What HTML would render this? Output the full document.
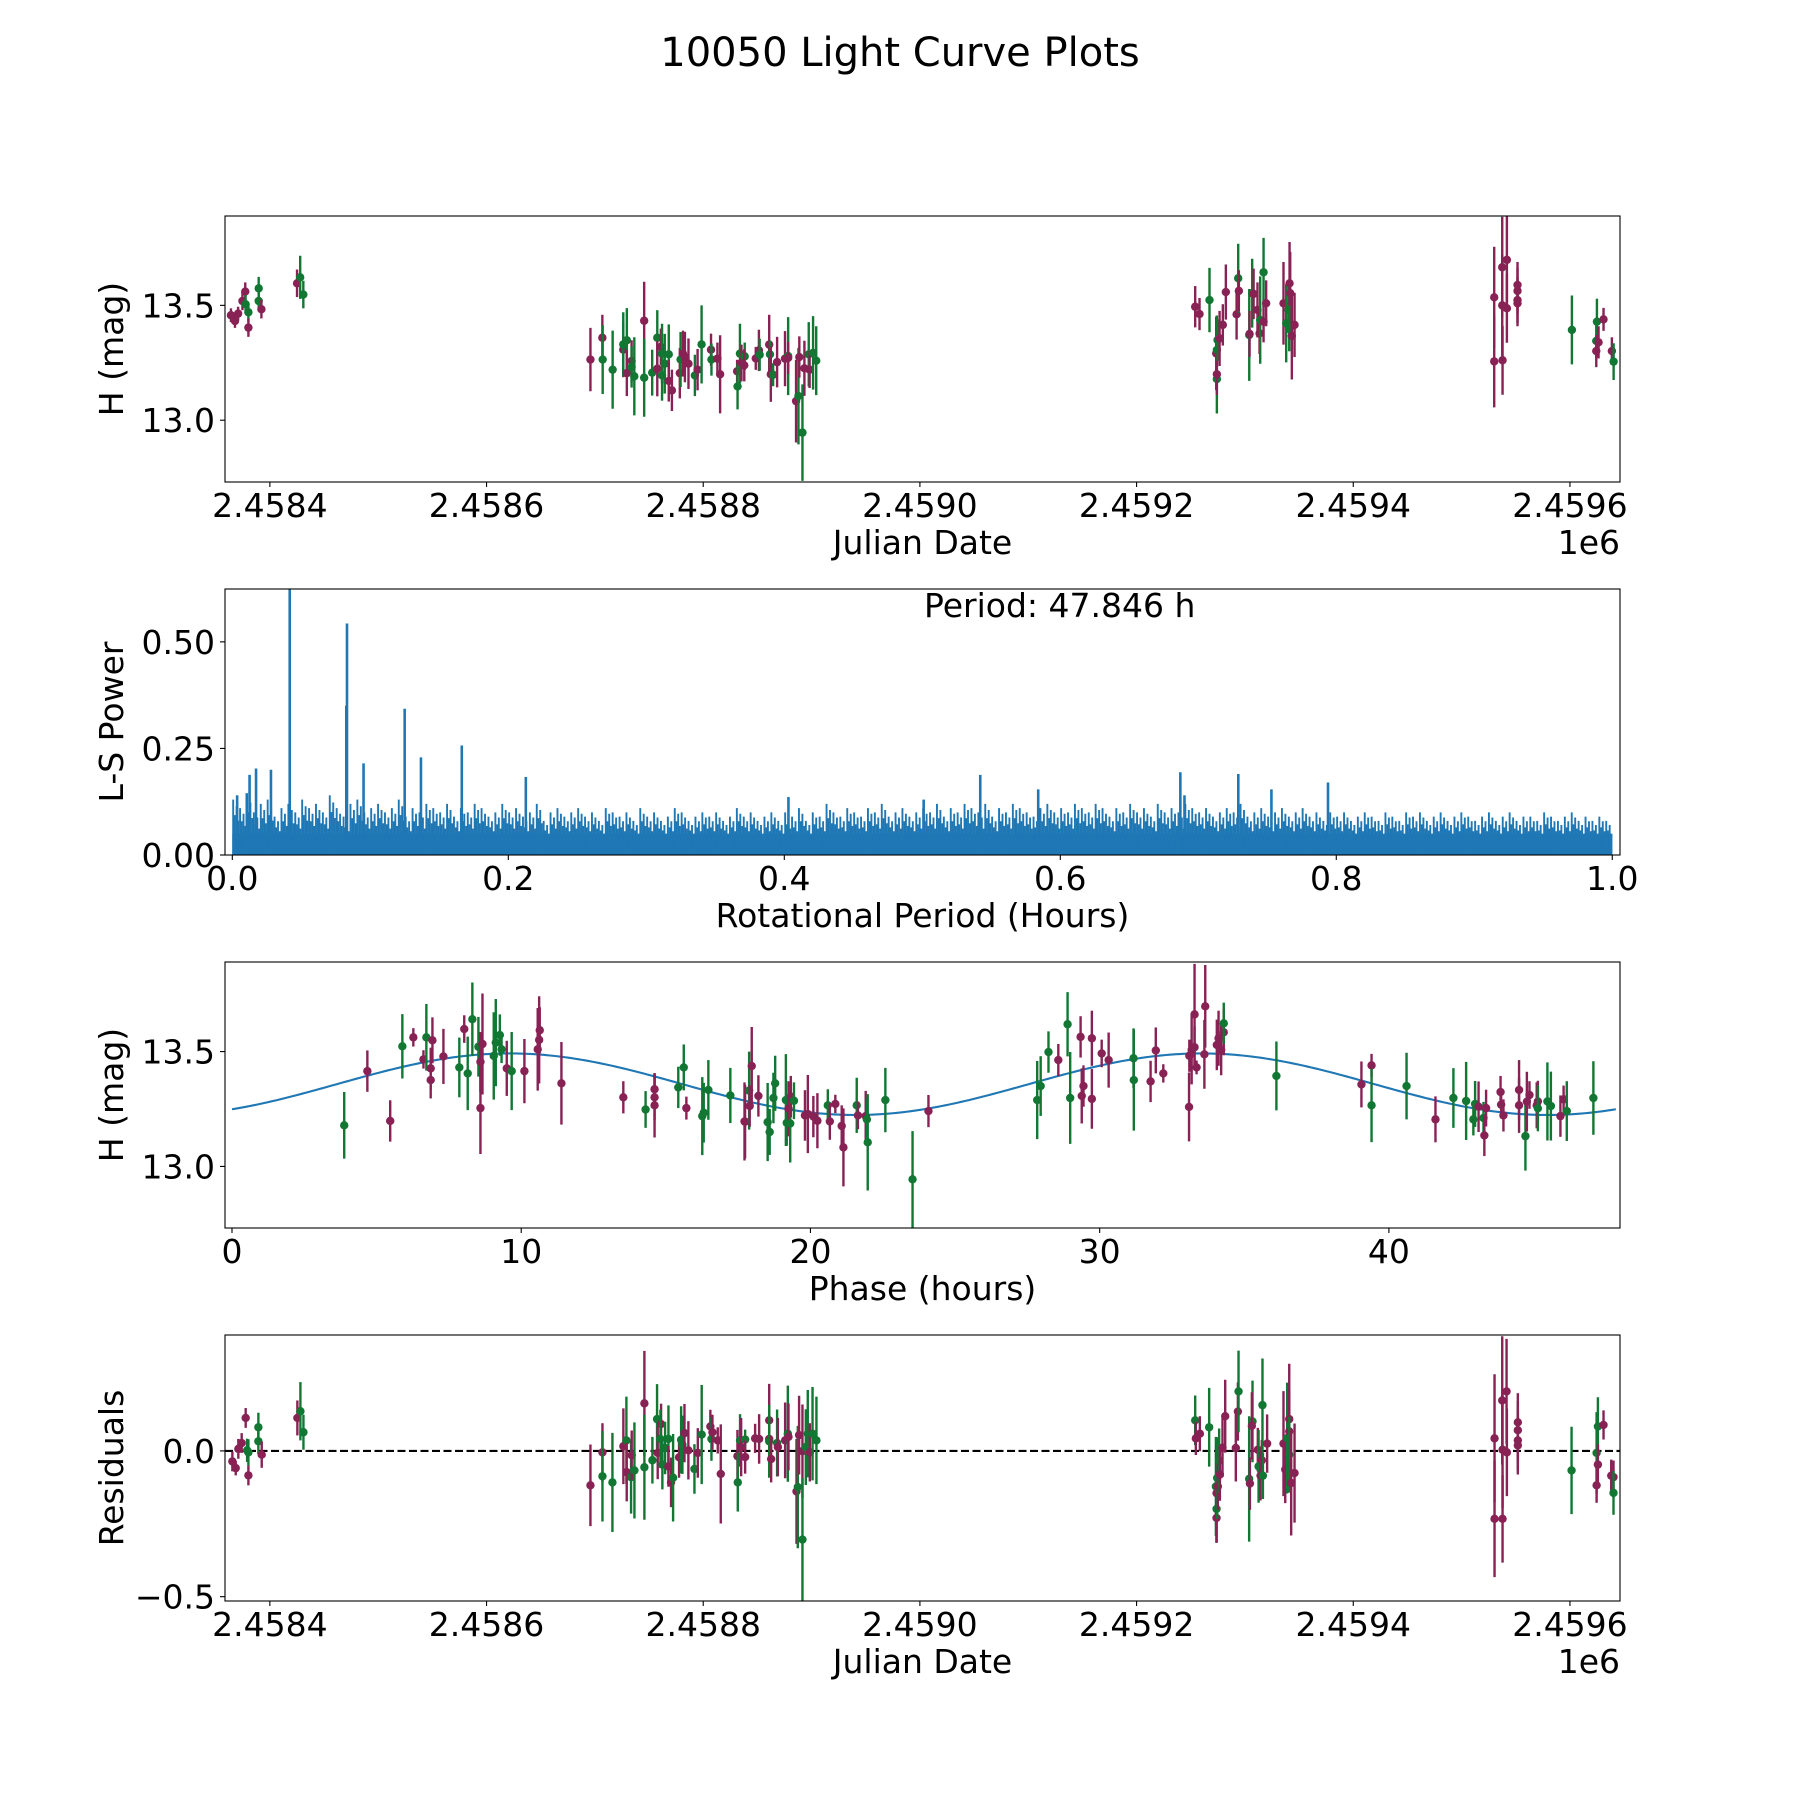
<!DOCTYPE html>
<html><head><meta charset="utf-8"><title>10050 Light Curve Plots</title>
<style>html,body{margin:0;padding:0;background:#fff}svg{display:block}text{font-family:"DejaVu Sans","Liberation Sans",sans-serif;fill:#000}</style>
</head><body>
<svg id="fig" xmlns="http://www.w3.org/2000/svg" width="1800" height="1800" viewBox="0 0 1800 1800">
<rect x="0" y="0" width="1800" height="1800" fill="#fff"/>
<text x="900" y="66" font-size="40" text-anchor="middle">10050 Light Curve Plots</text>
</svg>
<script>
// ---------- Panel 1: light curve (days since JD 2458400) ----------
const JD_REF = 2458400;
const lcDay = [-35.9,-32.2,-29.3,-25.3,-22.7,-22.4,-19.8,-19.8,-10.3,-10.3,-7.8,25.1,28.0,30.9,
295.9,306.9,307.2,316.4,326.2,326.2,329.5,329.5,333.9,333.9,336.4,345.5,345.5,352.9,357.6,357.6,360.9,362.0,362.0,364.5,368.2,368.2,371.1,378.4,379.1,381.3,383.1,386.4,392.3,394.8,398.5,407.2,407.6,413.1,415.6,431.3,431.7,433.9,435.3,438.3,437.9,448.5,451.4,452.1,460.9,461.6,462.4,464.5,468.2,475.5,478.4,478.4,485.7,487.9,488.7,491.6,493.4,497.4,498.2,501.4,504.3,
854.1,858.1,867.3,873.5,874.1,874.1,874.1,874.7,876.6,879.6,882.4,892.3,893.8,894.4,904.0,904.3,906.7,908.0,911.6,913.5,914.1,917.2,917.2,919.6,935.6,938.1,940.3,941.2,941.8,940.9,943.3,945.8,
1130.1,1130.1,1137.5,1137.5,1137.8,1141.8,1141.8,1151.6,1151.6,1151.6,1151.6,1201.8,1224.9,1224.3,1224.3,1226.4,1231.0,1238.7,1240.3];
const lcMag = [13.457,13.432,13.464,13.519,13.560,13.505,13.470,13.403,13.574,13.519,13.483,13.596,13.622,13.547,
13.264,13.359,13.264,13.220,13.307,13.330,13.348,13.205,13.258,13.232,13.191,13.433,13.185,13.207,13.359,13.224,13.319,13.290,13.195,13.246,13.287,13.171,13.130,13.205,13.264,13.290,13.275,13.246,13.195,13.220,13.330,13.307,13.264,13.268,13.200,13.213,13.147,13.290,13.249,13.278,13.239,13.269,13.304,13.285,13.329,13.287,13.200,13.198,13.253,13.268,13.279,13.271,13.083,13.105,13.275,12.946,13.226,13.287,13.220,13.293,13.259,
13.494,13.462,13.523,13.291,13.306,13.179,13.200,13.349,13.356,13.415,13.558,13.461,13.618,13.563,13.371,13.376,13.553,13.550,13.480,13.378,13.436,13.429,13.644,13.509,13.509,13.422,13.480,13.596,13.553,13.400,13.367,13.415,
13.535,13.256,13.666,13.500,13.261,13.698,13.487,13.589,13.563,13.523,13.509,13.393,13.429,13.345,13.301,13.339,13.439,13.301,13.255];
const lcErr = [.03,.03,.03,.04,.04,.04,.04,.04,.05,.04,.04,.06,.094,.06,
.138,.10,.15,.17,.12,.14,.14,.10,.09,.09,.17,.17,.17,.10,.12,.12,.08,.13,.11,.13,.13,.09,.09,.11,.12,.10,.11,.11,.09,.09,.17,.07,.07,.07,.17,.05,.10,.13,.08,.06,.07,.05,.09,.07,.13,.06,.12,.05,.11,.12,.17,.07,.18,.21,.09,.21,.12,.14,.08,.16,.15,
.09,.07,.14,.16,.15,.15,.09,.09,.12,.09,.12,.11,.15,.09,.20,.10,.15,.11,.12,.09,.19,.09,.15,.10,.18,.17,.10,.18,.18,.10,.19,.14,
.22,.20,.22,.22,.15,.19,.15,.10,.10,.10,.10,.15,.10,.07,.07,.07,.05,.06,.08];
const lcBand = "mmmmmggmggmmgg" + "mmggmggmmggmgggmmggggmmmgmmmgmgmgmmmggmgmmmgmgmgmmgmmgmgmgmgg" + "mmgmggmgmmmmgmgmgmmmgmgmmggmmgmm" + "mmmmmmmmmmmgggmmmmg";

// ---------- Panel 2: Lomb-Scargle periodogram ----------
const lsBinWidth = 0.005;
const lsBinPower = [0.13,0.11,0.14,0.10,0.12,0.13,0.09,0.11,0.12,0.10,0.13,0.11,0.12,0.10,0.14,0.11,0.09,0.12,0.13,0.10,
0.11,0.12,0.10,0.11,0.13,0.09,0.11,0.10,0.12,0.11,0.10,0.12,0.09,0.11,0.10,0.12,0.11,0.09,0.10,0.12,
0.10,0.11,0.09,0.10,0.12,0.08,0.10,0.11,0.09,0.10,0.11,0.09,0.10,0.08,0.11,0.10,0.09,0.10,0.08,0.11,
0.09,0.10,0.08,0.09,0.11,0.10,0.08,0.09,0.10,0.09,0.10,0.08,0.09,0.11,0.09,0.10,0.08,0.09,0.10,0.08,
0.10,0.09,0.11,0.08,0.10,0.09,0.12,0.10,0.09,0.11,0.10,0.09,0.11,0.10,0.12,0.09,0.10,0.11,0.09,0.10,
0.11,0.10,0.12,0.09,0.11,0.10,0.12,0.11,0.10,0.12,0.09,0.11,0.10,0.12,0.11,0.10,0.09,0.11,0.12,0.10,
0.11,0.10,0.12,0.11,0.10,0.12,0.11,0.09,0.11,0.10,0.12,0.10,0.11,0.09,0.12,0.10,0.11,0.10,0.12,0.11,
0.10,0.11,0.09,0.10,0.11,0.10,0.12,0.09,0.10,0.11,0.09,0.10,0.11,0.09,0.10,0.11,0.09,0.10,0.08,0.10,
0.09,0.10,0.08,0.09,0.10,0.09,0.08,0.10,0.09,0.08,0.10,0.09,0.10,0.08,0.09,0.10,0.08,0.09,0.10,0.09,
0.08,0.09,0.10,0.08,0.09,0.10,0.08,0.09,0.09,0.08,0.10,0.09,0.08,0.09,0.10,0.08,0.09,0.08,0.09,0.08];
const lsFloor = 0.05;
const lsSubFraction = [1.0,0.72,0.88,0.62];
const lsSpikePeriod = [0.0035,0.0105,0.0125,0.0172,0.028,0.0416,0.0826,0.0831,0.0951,0.1249,0.1367,0.1663,0.2127,0.403,0.501,0.542,0.584,0.687,0.69,0.729,0.753,0.794];
const lsSpikePower = [0.14,0.145,0.188,0.203,0.20,0.70,0.35,0.543,0.215,0.343,0.229,0.257,0.183,0.136,0.13,0.188,0.154,0.194,0.14,0.19,0.154,0.17];
const periodHours = 47.846;

// ---------- Panel 3: phased light curve ----------
const phHour = [3.88,4.68,5.47,5.89,6.27,6.62,6.72,6.87,6.87,6.93,7.31,7.86,8.03,8.15,8.31,8.52,8.59,8.59,8.66,9.05,9.12,9.26,9.32,9.50,9.67,10.11,10.57,10.62,10.64,11.39,13.53,14.30,14.61,14.61,14.61,15.43,15.62,15.71,16.26,16.31,16.47,17.23,17.72,
17.74,17.88,17.90,17.97,18.20,18.52,18.59,18.72,18.78,19.15,19.18,19.24,19.30,19.32,19.43,19.81,19.91,20.10,20.24,20.60,20.67,20.86,21.08,21.14,21.60,21.64,21.91,21.95,21.98,22.59,23.53,24.08,27.84,27.96,28.23,28.57,28.89,28.98,29.34,29.38,29.44,29.73,29.73,30.07,30.31,31.17,31.18,31.76,31.94,32.20,33.09,33.10,33.18,33.28,33.28,33.35,33.62,33.65,34.05,34.11,34.20,34.29,34.29,
36.11,39.05,39.40,39.40,40.61,41.61,42.23,42.67,42.92,42.98,43.10,43.27,43.30,43.36,43.86,43.88,43.96,44.50,44.50,44.72,44.77,44.86,45.11,45.15,45.15,45.48,45.60,45.93,46.04,46.15,47.07];
const phMag = [13.179,13.415,13.198,13.523,13.562,13.466,13.562,13.427,13.376,13.549,13.479,13.431,13.598,13.405,13.641,13.521,13.455,13.254,13.533,13.481,13.539,13.572,13.510,13.427,13.415,13.415,13.510,13.551,13.593,13.362,13.301,13.248,13.336,13.301,13.266,13.344,13.431,13.254,13.219,13.234,13.333,13.309,13.196,
13.195,13.330,13.263,13.437,13.307,13.193,13.150,13.298,13.362,13.289,13.190,13.251,13.187,13.304,13.286,13.222,13.228,13.217,13.199,13.266,13.196,13.272,13.176,13.083,13.266,13.222,13.219,13.205,13.105,13.289,12.944,13.241,13.289,13.350,13.498,13.463,13.619,13.298,13.564,13.307,13.350,13.558,13.294,13.492,13.463,13.471,13.376,13.370,13.505,13.405,13.259,13.482,13.507,13.662,13.519,13.431,13.488,13.697,13.529,13.558,13.507,13.584,13.623,
13.394,13.357,13.440,13.266,13.350,13.205,13.298,13.285,13.205,13.272,13.260,13.211,13.135,13.254,13.324,13.269,13.222,13.333,13.266,13.132,13.282,13.311,13.266,13.283,13.253,13.283,13.263,13.219,13.292,13.241,13.298];
const phErr = [.145,.09,.09,.14,.04,.04,.145,.09,.08,.10,.12,.13,.06,.16,.16,.13,.13,.20,.22,.19,.19,.09,.06,.12,.17,.14,.18,.19,.10,.18,.07,.08,.07,.10,.14,.09,.10,.05,.17,.13,.13,.12,.17,
.16,.17,.09,.17,.09,.17,.10,.11,.12,.20,.10,.12,.17,.09,.08,.11,.17,.09,.12,.07,.08,.04,.09,.17,.12,.06,.11,.09,.21,.14,.21,.07,.17,.13,.09,.07,.14,.20,.09,.12,.09,.12,.13,.06,.12,.13,.22,.09,.10,.04,.15,.07,.15,.22,.09,.03,.15,.18,.11,.12,.11,.10,.09,
.15,.10,.05,.16,.145,.10,.13,.17,.07,.10,.11,.07,.09,.08,.07,.06,.07,.13,.12,.15,.13,.06,.10,.09,.10,.17,.15,.09,.06,.13,.16];
const phBand = "gmmgmmgmmmmgmgggmmmggggmgmmmmmmgmmmggmggggmm".slice(0,43) + "mgmmmggggggmgmgmmmmgmmmmgmmggggmgggmggmmmmmmmggmmmmmmmmmmmmmmmg" + "gmmggmggggmgmmmmmmmgmmmmgggmmgg";
const modelAmp = 0.134, modelMean = 13.358, modelPeakHour = 9.6;

// ---------- Panel 4: residuals ----------
const resDay = [-34.6,-31.5,-29.1,-26.0,-22.3,-21.0,-19.8,-19.8,-10.6,-10.6,-7.5,25.4,28.2,31.0,
295.9,307.0,307.0,316.2,326.3,329.1,329.4,333.4,334.0,336.5,345.7,345.7,353.1,357.4,358.0,361.1,360.5,362.3,364.8,367.9,367.9,370.3,372.2,377.7,379.6,380.8,382.7,386.3,391.9,395.0,398.6,406.6,407.6,408.5,413.4,416.2,431.6,431.9,434.0,435.0,
438.7,438.7,447.9,451.6,460.9,460.9,460.9,462.7,468.2,468.9,475.6,478.1,478.7,486.1,487.3,488.5,491.6,491.6,494.7,496.5,498.4,500.9,504.5,
854.1,854.7,858.4,867.0,873.2,873.8,873.8,873.8,874.4,875.0,876.2,876.9,879.3,881.8,891.6,893.5,894.1,903.9,904.6,907.0,906.4,911.9,912.6,914.4,915.6,916.2,916.6,
920.5,935.6,937.2,939.0,940.9,940.9,940.9,942.7,945.8,
1130.4,1130.4,1137.5,1137.8,1137.8,1141.5,1141.8,1151.9,1151.9,1151.9,1151.9,1201.5,1224.6,1225.8,1225.8,1224.6,1231.0,1238.1,1240.2,1240.2];
const resVal = [-0.036,-0.059,0.007,0.027,0.113,0.002,-0.005,-0.084,0.081,0.033,-0.013,0.113,0.136,0.064,
-0.118,-0.005,-0.087,-0.108,0.016,0.036,-0.073,-0.09,-0.015,-0.067,0.163,-0.056,-0.032,0.109,-0.007,0.092,0.041,-0.047,0.010,0.041,-0.053,-0.108,-0.092,-0.022,0.038,0.021,0.061,0.002,-0.062,-0.007,0.056,0.084,0.041,0.064,0.036,-0.079,-0.018,-0.108,0.036,0.013,
0.039,-0.021,0.043,0.041,0.105,0.041,0.033,-0.028,0.027,0.013,0.036,0.059,0.048,-0.139,-0.124,0.054,-0.001,-0.304,0.013,0.059,-0.005,0.059,0.036,
0.105,0.043,0.059,0.081,-0.122,-0.145,-0.199,-0.230,-0.093,-0.122,-0.033,-0.081,0.011,0.119,0.010,0.135,0.204,-0.096,-0.112,0.101,0.086,0.004,-0.053,-0.085,-0.032,0.157,-0.085,
0.025,0.025,-0.064,0.044,0.109,0.067,-0.013,-0.110,-0.076,
0.043,-0.233,0.173,0.004,-0.233,0.204,-0.005,0.098,0.071,0.036,0.019,-0.067,-0.007,0.084,-0.047,-0.118,0.089,-0.085,-0.09,-0.144];
const resErr = [.034,.025,.034,.034,.034,.04,.045,.034,.05,.045,.045,.06,.10,.06,
.14,.10,.155,.17,.13,.15,.10,.125,.085,.165,.18,.18,.08,.12,.09,.07,.10,.085,.09,.115,.07,.085,.15,.07,.115,.10,.10,.10,.085,.085,.17,.057,.075,.06,.045,.17,.09,.10,.09,.10,
.034,.057,.05,.085,.125,.085,.125,.08,.115,.10,.13,.165,.115,.18,.21,.135,.16,.21,.13,.15,.10,.16,.15,
.085,.057,.06,.135,.17,.17,.115,.085,.14,.08,.11,.09,.10,.125,.115,.10,.14,.215,.09,.14,.115,.075,.125,.085,.07,.16,.08,
.10,.18,.115,.19,.19,.14,.13,.18,.17,
.22,.20,.22,.20,.15,.18,.15,.10,.10,.10,.10,.15,.14,.10,.07,.06,.05,.055,.057,.075];
const resBand = "mmmmmggmggmmgg" + "mmggmgmgmgmgggmmggggmmgmggmmgmgmgmmmmggm" + "gmmmmmgmgmmgmmgmmgggmgg" + "gmmggmgmgmgmmmmmggmgmmgmmgg" + "mmmgmmgmm" + "mmmmmmmmmmmgggmmmmmg";

// ---------- drawing ----------
const NS = "http://www.w3.org/2000/svg";
const svg = document.getElementById('fig');
const COL = {m:'#882255', g:'#117733'};
function mk(tag, attrs, parent){ const e=document.createElementNS(NS,tag); for(const k in attrs) e.setAttribute(k,attrs[k]); (parent||svg).appendChild(e); return e; }
function scale(d0,d1,p0,p1){ return v => p0 + (v-d0)*(p1-p0)/(d1-d0); }

const X0=225, X1=1620;
const panels = [
  {id:'lc', y0:216, y1:482},
  {id:'ls', y0:589, y1:855},
  {id:'ph', y0:962, y1:1228},
  {id:'res', y0:1335, y1:1601}
];
panels.forEach(p=>{
  const cp = mk('clipPath',{id:'clip-'+p.id});
  mk('rect',{x:X0,y:p.y0,width:X1-X0,height:p.y1-p.y0},cp);
});

function frame(p, name){
  const r = mk('rect',{x:X0,y:p.y0,width:X1-X0,height:p.y1-p.y0,fill:'none',stroke:'#000','stroke-width':1.1});
  
  
}
function xTicks(p, sx, vals, labels, name){
  vals.forEach((v,i)=>{
    const x = sx(v);
    const t = mk('line',{x1:x,x2:x,y1:p.y1,y2:p.y1+5,stroke:'#000','stroke-width':1.1});
    
    
    const l = mk('text',{x:x,y:p.y1+35,'font-size':33,'text-anchor':'middle'});
    l.textContent = labels[i];
    
    
  });
}
function yTicks(p, sy, vals, labels, name){
  vals.forEach((v,i)=>{
    const y = sy(v);
    const t = mk('line',{x1:X0-5,x2:X0,y1:y,y2:y,stroke:'#000','stroke-width':1.1});
    
    
    const l = mk('text',{x:215,y:y+12,'font-size':33,'text-anchor':'end'});
    l.textContent = labels[i];
    
    
  });
}
function labelX(p, txt, name){
  const l = mk('text',{x:922.5,y:p.y1+72,'font-size':33,'text-anchor':'middle'});
  l.textContent = txt;
  
  
}
function labelY(p, txt, name){
  const cy=(p.y0+p.y1)/2;
  const l = mk('text',{x:123,y:cy,'font-size':33,'text-anchor':'middle',transform:'rotate(-90 123 '+cy+')'});
  l.textContent = txt;
  
  
}
function offsetLabel(p, name){
  const l = mk('text',{x:1620,y:p.y1+72,'font-size':33,'text-anchor':'end'});
  l.textContent = '1e6';
  
  
}
function errPoints(p, sx, sy, xs, ys, es, bands, name){
  const g = mk('g',{'clip-path':'url(#clip-'+p.id+')'});
  
  
  for(let i=0;i<xs.length;i++){
    const c = COL[bands[i]] || COL.m;
    const x = sx(xs[i]);
    const bar = mk('line',{x1:x,x2:x,y1:sy(ys[i]-es[i]),y2:sy(ys[i]+es[i]),stroke:c,'stroke-width':2.4},g);
    
    
    const dot = mk('circle',{cx:x,cy:sy(ys[i]),r:4.2,fill:c},g);
    
    
  }
}
const jdTickVals=[0,200,400,600,800,1000,1200];
const jdTickLabels=['2.4584','2.4586','2.4588','2.4590','2.4592','2.4594','2.4596'];

// Panel 1
{
  const p=panels[0];
  const sx=scale(-41.4,1246.2,X0,X1), sy=scale(12.731,13.889,p.y1,p.y0);
  errPoints(p,sx,sy,lcDay,lcMag,lcErr,lcBand,'lightcurve');
  frame(p,'lightcurve');
  xTicks(p,sx,jdTickVals,jdTickLabels,'lightcurve');
  yTicks(p,sy,[13.0,13.5],['13.0','13.5'],'lightcurve');
  labelX(p,'Julian Date','lightcurve-x-axis-title');
  labelY(p,'H (mag)','lightcurve-y-axis-title');
  offsetLabel(p,'lightcurve-x-offset-label');
}
// Panel 2
{
  const p=panels[1];
  const sx=scale(-0.0053,1.0056,X0,X1), sy=scale(0,0.624,p.y1,p.y0);
  const g=mk('g',{'clip-path':'url(#clip-ls)'});
  
  
  const fl=mk('rect',{x:sx(0),y:sy(lsFloor),width:sx(1)-sx(0),height:sy(0)-sy(lsFloor),fill:'#1f77b4'},g);
  
  
  lsBinPower.forEach((v,i)=>{
    lsSubFraction.forEach((f,j)=>{
      const x=sx(i*lsBinWidth + lsBinWidth*(j+0.5)/lsSubFraction.length);
      const b=mk('line',{x1:x,x2:x,y1:sy(0),y2:sy(v*f),stroke:'#1f77b4','stroke-width':1.9},g);
      
      
    });
  });
  lsSpikePeriod.forEach((v,i)=>{
    const x=sx(v);
    const s=mk('line',{x1:x,x2:x,y1:sy(0),y2:sy(lsSpikePower[i]),stroke:'#1f77b4','stroke-width':2.6},g);
    
    
  });
  frame(p,'periodogram');
  xTicks(p,sx,[0,0.2,0.4,0.6,0.8,1.0],['0.0','0.2','0.4','0.6','0.8','1.0'],'periodogram');
  yTicks(p,sy,[0,0.25,0.5],['0.00','0.25','0.50'],'periodogram');
  labelX(p,'Rotational Period (Hours)','periodogram-x-axis-title');
  labelY(p,'L-S Power','periodogram-y-axis-title');
  const t=mk('text',{x:924,y:617,'font-size':33});
  t.textContent='Period: '+periodHours.toFixed(3)+' h';
  
  
}
// Panel 3
{
  const p=panels[2];
  const sx=scale(-0.242,47.99,X0,X1), sy=scale(12.732,13.890,p.y1,p.y0);
  let d='';
  for(let k=0;k<=400;k++){
    const h=periodHours*k/400;
    const m=modelMean+modelAmp*Math.cos(4*Math.PI*(h-modelPeakHour)/periodHours);
    d+=(k?'L':'M')+sx(h).toFixed(2)+' '+sy(m).toFixed(2);
  }
  const g=mk('g',{'clip-path':'url(#clip-ph)'});
  
  
  const path=mk('path',{d:d,fill:'none',stroke:'#1f77b4','stroke-width':2.1},g);
  
  
  errPoints(p,sx,sy,phHour,phMag,phErr,phBand,'phased');
  frame(p,'phased');
  xTicks(p,sx,[0,10,20,30,40],['0','10','20','30','40'],'phased');
  yTicks(p,sy,[13.0,13.5],['13.0','13.5'],'phased');
  labelX(p,'Phase (hours)','phased-x-axis-title');
  labelY(p,'H (mag)','phased-y-axis-title');
}
// Panel 4
{
  const p=panels[3];
  const sx=scale(-41.4,1246.2,X0,X1), sy=scale(-0.5148,0.3975,p.y1,p.y0);
  const zl=mk('line',{x1:X0,x2:X1,y1:sy(0),y2:sy(0),stroke:'#000','stroke-width':2.1,'stroke-dasharray':'8 3.5'});
  
  
  errPoints(p,sx,sy,resDay,resVal,resErr,resBand,'residual');
  frame(p,'residual');
  xTicks(p,sx,jdTickVals,jdTickLabels,'residual');
  yTicks(p,sy,[-0.5,0],['\u22120.5','0.0'],'residual');
  labelX(p,'Julian Date','residual-x-axis-title');
  labelY(p,'Residuals','residual-y-axis-title');
  offsetLabel(p,'residual-x-offset-label');
}
</script>
</body></html>
